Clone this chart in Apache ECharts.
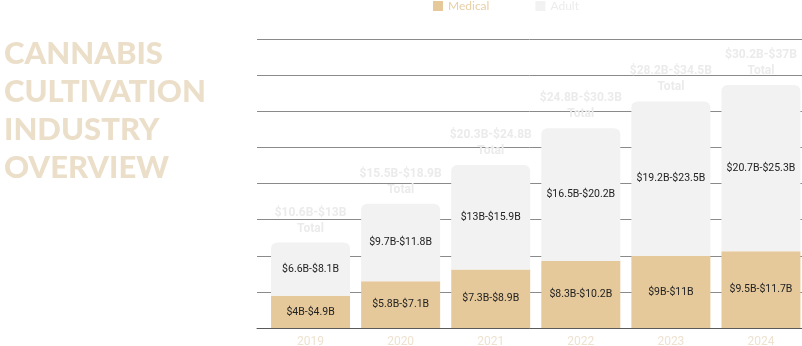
<!DOCTYPE html>
<html>
<head>
<meta charset="utf-8">
<script src="https://cdn.jsdelivr.net/npm/echarts@6/dist/echarts.min.js"></script>
<style>html,body{margin:0;padding:0;background:#fff;}#c{width:802px;height:346px;}</style>
</head>
<body>
<div id="c"></div>
<script>
var years = ['2019', '2020', '2021', '2022', '2023', '2024'];
var medicalLow = [4, 5.8, 7.3, 8.3, 9, 9.5];
var medicalHigh = [4.9, 7.1, 8.9, 10.2, 11, 11.7];
var adultLow = [6.6, 9.7, 13, 16.5, 19.2, 20.7];
var adultHigh = [8.1, 11.8, 15.9, 20.2, 23.5, 25.3];
var totalLow = [10.6, 15.5, 20.3, 24.8, 28.2, 30.2];
var totalHigh = [13, 18.9, 24.8, 30.3, 34.5, 37];
var titleLines = ['CANNABIS', 'CULTIVATION', 'INDUSTRY', 'OVERVIEW'];

function rng(a, b) { return '$' + a + 'B-$' + b + 'B'; }

var chart = echarts.init(document.getElementById('c'));
chart.setOption({
  animation: false,
  backgroundColor: '#ffffff',
  title: {
    text: titleLines.join('\n'),
    left: -1, top: 30,
    textStyle: { fontFamily: 'Lato', fontWeight: 900, fontSize: 31, lineHeight: 38, color: '#ecdfca' }
  },
  legend: {
    top: 0, left: 433, padding: 0, itemWidth: 10, itemHeight: 10, itemGap: 46,
    icon: 'rect',
    textStyle: { fontFamily: 'Lato', fontSize: 12 },
    data: [
      { name: 'Medical', textStyle: { color: '#e8cfa6' } },
      { name: 'Adult', textStyle: { color: '#ececec' } }
    ]
  },
  grid: [
    { left: 265.5, width: 540.5, top: 39, bottom: 18, outerBoundsMode: 'none' },
    { left: 257, right: 0, top: 39, bottom: 18, outerBoundsMode: 'none' }
  ],
  xAxis: [
    {
      type: 'category', data: years, gridIndex: 0,
      axisLine: { show: false }, axisTick: { show: false },
      axisLabel: { color: '#eee2d0', fontFamily: 'Roboto', fontSize: 12, margin: 8 }
    },
    {
      type: 'value', gridIndex: 1, min: 0, max: 1,
      axisLine: { show: true, onZero: false, lineStyle: { color: '#5a5a5a', width: 1 } },
      axisTick: { show: false }, axisLabel: { show: false }, splitLine: { show: false }
    }
  ],
  yAxis: [
    {
      type: 'value', gridIndex: 0, min: 0, max: 44, interval: 5.5,
      axisLine: { show: false }, axisTick: { show: false }, axisLabel: { show: false },
      splitLine: { show: false }
    },
    {
      type: 'value', gridIndex: 1, min: 0, max: 44, interval: 5.5,
      axisLine: { show: false }, axisTick: { show: false }, axisLabel: { show: false },
      splitLine: { show: true, lineStyle: { color: '#8a8a8a', width: 1 } }
    }
  ],
  series: [
    {
      name: 'Medical', type: 'bar', stack: 'total', xAxisIndex: 0, yAxisIndex: 0,
      barWidth: 79, data: medicalHigh,
      itemStyle: { color: '#e6c99b' },
      label: {
        show: true, position: 'inside', color: '#222', fontFamily: 'Roboto', fontSize: 10.5,
        formatter: function (p) { return rng(medicalLow[p.dataIndex], medicalHigh[p.dataIndex]); }
      }
    },
    {
      name: 'Adult', type: 'bar', stack: 'total', xAxisIndex: 0, yAxisIndex: 0,
      barWidth: 79, data: adultHigh,
      itemStyle: { color: '#f2f2f2', borderRadius: [6, 6, 0, 0] },
      label: {
        show: true, position: 'inside', color: '#222', fontFamily: 'Roboto', fontSize: 10.5,
        formatter: function (p) { return rng(adultLow[p.dataIndex], adultHigh[p.dataIndex]); }
      }
    },
    {
      name: 'TotalLabel', type: 'bar', stack: 'total', xAxisIndex: 0, yAxisIndex: 0,
      barWidth: 79, data: years.map(function () { return 0; }),
      itemStyle: { color: 'transparent' }, silent: true,
      label: {
        show: true, position: 'top', distance: 6, color: '#ebebeb',
        fontFamily: 'Roboto', fontWeight: 'bold', fontSize: 12, lineHeight: 16,
        formatter: function (p) { return rng(totalLow[p.dataIndex], totalHigh[p.dataIndex]) + '\nTotal'; }
      }
    }
  ]
});
</script>
</body>
</html>
